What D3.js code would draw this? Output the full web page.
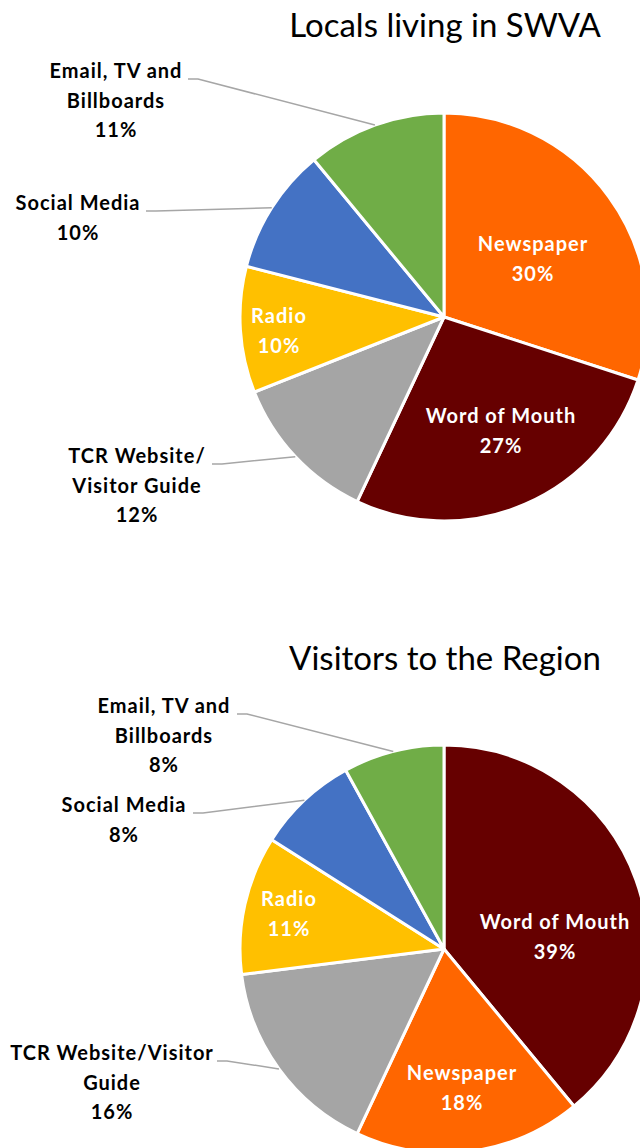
<!DOCTYPE html>
<html lang="en">
  <head>
    <meta charset="UTF-8" />
    <title>pie charts - d3</title>
    <script src="https://d3js.org/d3.v7.min.js"></script>
  </head>
  <style>
    html,
    body {
      margin: 0;
      padding: 0;
      background: #fff;
    }
    svg {
      display: block;
    }
  </style>
  <body>
    <script>
      // data
      var categories1 = ["Newspaper", "Word of Mouth", "TCR Website/Visitor Guide", "Radio", "Social Media", "Email, TV and Billboards"];
      var values1 = [30, 27, 12, 10, 10, 11];
      var categories2 = ["Word of Mouth", "Newspaper", "TCR Website/Visitor Guide", "Radio", "Social Media", "Email, TV and Billboards"];
      var values2 = [39, 18, 16, 11, 8, 8];
      var titles = ["Locals living in SWVA", "Visitors to the Region"];

      var color = d3
        .scaleOrdinal()
        .domain(["Newspaper", "Word of Mouth", "TCR Website/Visitor Guide", "Radio", "Social Media", "Email, TV and Billboards"])
        .range(["#ff6600", "#660000", "#a5a5a5", "#ffc000", "#4472c4", "#70ad47"]);

      // label placement (text lines, centre x, first baseline y, leader start)
      var layout1 = {
        "Newspaper": { lines: ["Newspaper"], x: 533, y: 251, inside: true },
        "Word of Mouth": { lines: ["Word of Mouth"], x: 501, y: 423, inside: true },
        "Radio": { lines: ["Radio"], x: 279, y: 323, inside: true },
        "TCR Website/Visitor Guide": { lines: ["TCR Website/", "Visitor Guide"], x: 137, y: 463, lx: 212 },
        "Social Media": { lines: ["Social Media"], x: 78, y: 210, lx: 146 },
        "Email, TV and Billboards": { lines: ["Email, TV and", "Billboards"], x: 116, y: 78, lx: 188 }
      };
      var layout2 = {
        "Word of Mouth": { lines: ["Word of Mouth"], x: 555, y: 929, inside: true },
        "Newspaper": { lines: ["Newspaper"], x: 462, y: 1080, inside: true },
        "Radio": { lines: ["Radio"], x: 289, y: 906, inside: true },
        "TCR Website/Visitor Guide": { lines: ["TCR Website/Visitor", "Guide"], x: 112, y: 1060, lx: 217 },
        "Social Media": { lines: ["Social Media"], x: 124, y: 812, lx: 193 },
        "Email, TV and Billboards": { lines: ["Email, TV and", "Billboards"], x: 164, y: 713, lx: 237 }
      };

      var W = 640,
        H = 1148,
        R = 204,
        lineH = 29.5;

      var svg = d3.select("body").append("svg").attr("width", W).attr("height", H);

      var charts = [
        { cats: categories1, vals: values1, layout: layout1, cx: 444, cy: 317, title: titles[0], ty: 37 },
        { cats: categories2, vals: values2, layout: layout2, cx: 444, cy: 949, title: titles[1], ty: 670 }
      ];

      var arc = d3.arc().innerRadius(0).outerRadius(R);
      var edge = d3.arc().innerRadius(R).outerRadius(R);

      charts.forEach(function (c) {
        var rows = c.cats.map(function (k, i) {
          return { name: k, value: c.vals[i] };
        });
        var pie = d3
          .pie()
          .sort(null)
          .value(function (d) {
            return d.value;
          });
        var arcs = pie(rows);

        svg
          .append("text")
          .attr("x", c.cx + 1)
          .attr("y", c.ty)
          .attr("text-anchor", "middle")
          .attr("font-family", "Lato, 'Open Sans', sans-serif")
          .attr("font-size", 33)
          .attr("fill", "#000")
          .text(c.title);

        var g = svg.append("g").attr("transform", "translate(" + c.cx + "," + c.cy + ")");

        g.selectAll("path")
          .data(arcs)
          .enter()
          .append("path")
          .attr("d", arc)
          .attr("fill", function (d) {
            return color(d.data.name);
          })
          .attr("stroke", "#fff")
          .attr("stroke-width", 3)
          .attr("stroke-linejoin", "round");

        arcs.forEach(function (d) {
          var L = c.layout[d.data.name];
          var pct = d.data.value + "%";
          var lines = L.lines.concat([pct]);

          if (!L.inside) {
            // leader line: short stub then to the slice edge at mid angle
            var p = edge.centroid(d);
            var ly = L.y + 1;
            svg
              .append("polyline")
              .attr("points", [
                [L.lx, ly],
                [L.lx + 10, ly],
                [c.cx + p[0], c.cy + p[1]]
              ].join(" "))
              .attr("fill", "none")
              .attr("stroke", "#a6a6a6")
              .attr("stroke-width", 1.5);
          }

          var t = svg
            .append("text")
            .attr("text-anchor", "middle")
            .attr("font-family", "Lato, 'Open Sans', sans-serif")
            .attr("font-weight", "bold")
            .attr("font-size", 20)
            .attr("letter-spacing", 1)
            .attr("fill", L.inside ? "#fff" : "#000");
          lines.forEach(function (s, i) {
            t.append("tspan")
              .attr("x", L.x)
              .attr("y", L.y + i * lineH)
              .text(s);
          });
        });
      });
    </script>
  </body>
</html>
